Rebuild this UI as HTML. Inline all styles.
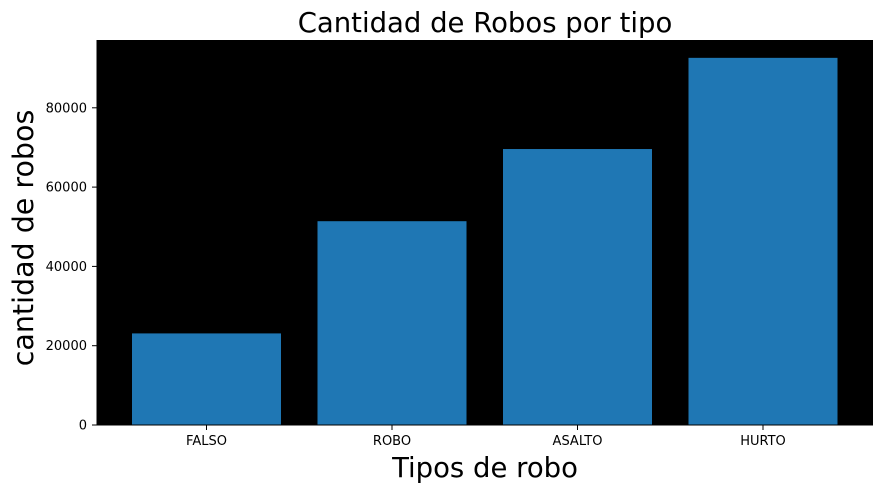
<!DOCTYPE html>
<html><head><meta charset="utf-8"><style>body{margin:0;background:#fff}svg{display:block}text{font-family:"DejaVu Sans","Liberation Sans",sans-serif}</style></head>
<body>
<svg width="882" height="492">
<text x="485" y="32" font-size="27.5" text-anchor="middle">Cantidad de Robos por tipo</text>
<rect x="97" y="40" width="776" height="385" fill="#000"/>
<g id="bars"></g><g id="yt"></g><g id="xt"></g>
<line x1="97" y1="40" x2="97" y2="425" stroke="#000" stroke-width="1"/>
<line x1="97" y1="425" x2="873" y2="425" stroke="#000" stroke-width="1"/>
<text x="485" y="477" font-size="27.5" text-anchor="middle">Tipos de robo</text>
<text transform="translate(33,238) rotate(-90)" font-size="28.5" text-anchor="middle">cantidad de robos</text>
</svg>
<script>
const categories=["FALSO","ROBO","ASALTO","HURTO"];
const values=[23100,51400,69600,92600];
const yTicks=[0,20000,40000,60000,80000];
const ns="http://www.w3.org/2000/svg";
function y(v){return 425-v*(79.3/20000);}
function x(i){return 206.5+i*185.5;}
const bw=149;
function mk(t,a,p){const e=document.createElementNS(ns,t);for(const k in a)e.setAttribute(k,a[k]);document.getElementById(p).appendChild(e);return e;}
categories.forEach((c,i)=>{
 const r=mk("rect",{x:x(i)-bw/2,y:y(values[i]),width:bw,height:425-y(values[i]),fill:"#1f77b4"},"bars");
 
 
 mk("line",{x1:x(i),x2:x(i),y1:425,y2:430,stroke:"#000"},"xt");
 const t=mk("text",{x:x(i),y:445,"font-size":13,"text-anchor":"middle"},"xt");
 t.textContent=c;
 
 
});
yTicks.forEach(v=>{
 mk("line",{x1:92,x2:97,y1:y(v),y2:y(v),stroke:"#000"},"yt");
 const t=mk("text",{x:87,y:y(v)+4.5,"font-size":13,"text-anchor":"end"},"yt");
 t.textContent=String(v);
 
 
});
</script>
</body></html>
